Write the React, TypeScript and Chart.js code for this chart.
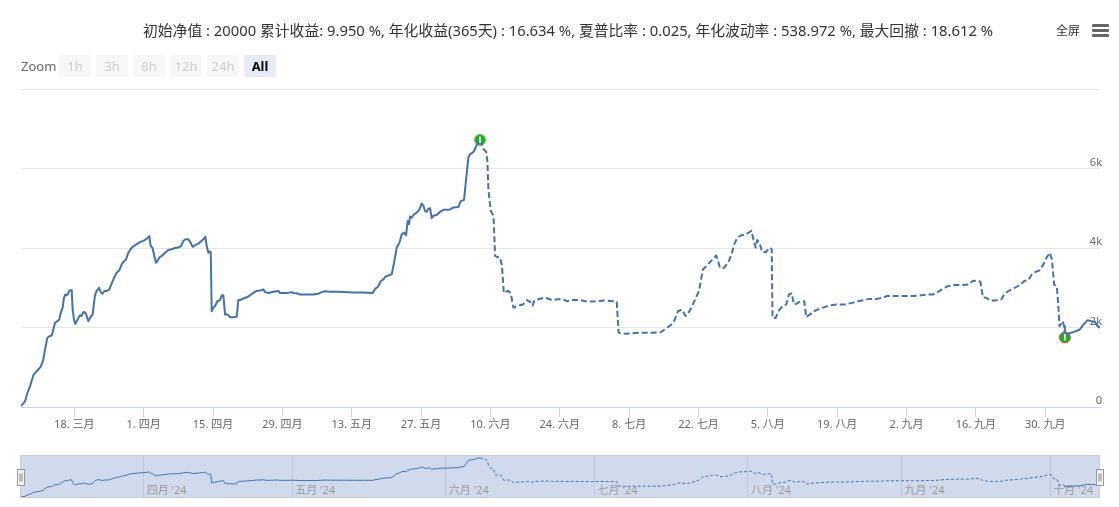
import React, { useEffect, useRef } from 'react';
import { Chart, registerables } from 'chart.js';

Chart.register(...registerables);

const FONT = '"Noto Sans", "Noto Sans CJK SC", sans-serif';
const LINE_COLOR = '#4572A7';

const titleText =
  '初始净值 : 20000 累计收益: 9.950 %, 年化收益(365天) : 16.634 %, 夏普比率 : 0.025, 年化波动率 : 538.972 %, 最大回撤 : 18.612 %';
const zoomButtons = ['1h', '3h', '8h', '12h', '24h', 'All'];
const selectedButton = 'All';

// day index = days since 1 Mar 2024
const dayIndex = [
  6.24, 6.5, 7.05, 7.52, 8.06, 8.73, 9.41, 10.21, 10.75, 11.09, 11.56, 11.96, 12.43, 12.77, 13.11, 13.58,
  13.98, 14.25, 14.65, 14.92, 15.19, 15.46, 15.8, 16.0, 16.47, 16.67, 16.94, 17.21, 17.48, 17.82, 18.15,
  18.49, 18.83, 19.23, 19.5, 19.84, 20.17, 20.71, 20.98, 21.18, 21.52, 21.99, 22.33, 22.73, 23.07, 23.54,
  24.08, 24.55, 25.02, 25.56, 26.1, 26.57, 26.9, 27.44, 27.91, 28.59, 29.26, 29.93, 30.27, 30.94, 31.61,
  32.15, 32.42, 32.76, 33.16, 33.5, 33.77, 34.17, 34.64, 35.32, 35.99, 36.66, 37.33, 38.01, 38.55, 39.02,
  39.49, 40.03, 40.5, 40.9, 41.37, 42.05, 42.72, 43.06, 43.46, 43.73, 44.06, 44.27, 44.54, 44.74, 45.07,
  45.41, 45.88, 46.42, 46.76, 47.09, 47.43, 47.77, 48.1, 48.44, 49.11, 49.78, 50.12, 50.46, 51.13, 51.8,
  52.48, 53.15, 53.82, 54.5, 55.17, 55.51, 56.18, 57.19, 58.2, 58.53, 59.21, 59.88, 60.89, 61.23, 61.9,
  62.57, 63.92, 65.26, 66.27, 66.95, 67.62, 68.63, 69.98, 71.32, 73.34, 75.36, 77.24, 77.71, 78.39, 78.86,
  79.4, 79.73, 80.41, 81.08, 81.55, 82.09, 82.63, 83.1, 83.57, 83.97, 84.31, 84.58, 84.78, 85.12, 85.45,
  86.13, 86.67, 87.14, 87.47, 87.81, 88.15, 88.48, 88.82, 89.16, 89.49, 90.17, 90.84, 91.51, 92.18, 92.86,
  93.53, 94.54, 95.01, 95.68, 96.09, 96.56, 96.9, 97.43, 97.7, 98.24, 98.91, 99.59, 100.13, 100.39, 100.6,
  100.8, 101.07, 101.61, 101.74, 101.94, 102.41, 102.95, 103.33, 103.71, 104.49, 105.1, 105.64, 106.42,
  107.58, 108.35, 109.12, 109.51, 109.89, 110.67, 111.82, 112.6, 113.37, 114.53, 115.69, 116.46, 117.62,
  119.16, 120.71, 122.26, 124.19, 125.73, 126.5, 126.89, 127.66, 129.21, 130.75, 132.3, 133.84, 135.39,
  136.16, 137.32, 138.09, 138.87, 139.64, 140.41, 140.8, 141.57, 142.34, 143.12, 143.89, 144.66, 145.05,
  145.82, 146.59, 147.36, 148.14, 148.68, 149.14, 149.68, 150.22, 150.84, 151.61, 152.39, 153.16, 153.7,
  154.09, 154.55, 154.86, 155.32, 155.86, 156.64, 157.41, 157.79, 157.95, 158.57, 159.34, 160.11, 160.73,
  161.27, 161.81, 162.28, 162.82, 163.59, 164.36, 164.75, 165.52, 166.29, 167.45, 168.61, 169.77, 170.93,
  172.47, 174.02, 175.18, 176.34, 177.5, 179.04, 180.2, 180.97, 182.52, 184.06, 186.38, 187.93, 189.08,
  190.24, 191.02, 192.18, 193.33, 194.88, 196.42, 197.58, 198.35, 199.13, 199.9, 200.44, 201.06, 201.83,
  202.99, 204.15, 204.92, 205.7, 206.85, 208.01, 208.78, 209.56, 210.33, 211.1, 211.87, 212.65, 213.27,
  213.96, 214.35, 214.81, 215.35, 215.74, 215.89, 216.51, 216.82, 216.97, 217.67, 218.83, 219.99, 220.76,
  221.53, 222.31, 223.08, 223.46, 224.06,
];

const netProfit = [
  30, 60, 140, 350, 520, 800, 900, 1010, 1190, 1450, 1740, 1780, 1800, 1950, 2120, 2160,
  2200, 2370, 2500, 2750, 2830, 2810, 2870, 2930, 2940, 2450, 2200, 2090, 2160, 2240, 2310,
  2290, 2390, 2370, 2290, 2160, 2240, 2330, 2620, 2810, 2920, 3000, 2890, 2850, 2920, 2920,
  2960, 3110, 3250, 3380, 3440, 3590, 3650, 3710, 3880, 4010, 4070, 4120, 4150, 4180, 4230,
  4300, 4050, 4010, 3800, 3630, 3670, 3760, 3800, 3880, 3950, 3970, 4000, 4010, 4050, 4180,
  4220, 4220, 4130, 4030, 4070, 4110, 4180, 4220, 4280, 4050, 3880, 3910, 3900, 2410, 2500,
  2540, 2660, 2690, 2810, 2810, 2330, 2330, 2310, 2260, 2260, 2270, 2690, 2690, 2730, 2760,
  2810, 2870, 2920, 2930, 2960, 2890, 2870, 2900, 2920, 2870, 2870, 2870, 2890, 2870, 2860,
  2830, 2830, 2830, 2850, 2890, 2910, 2900, 2900, 2890, 2880, 2880, 2870, 2970, 3040, 3170,
  3210, 3270, 3310, 3340, 3630, 4010, 4130, 4340, 4390, 4320, 4680, 4600, 4790, 4760, 4830,
  4890, 4970, 5120, 5060, 4930, 4910, 4990, 5000, 4750, 4810, 4830, 4910, 4960, 4960, 4970,
  5020, 5030, 5180, 5210, 5730, 6280, 6360, 6400, 6440, 6590, 6720, 6490, 6420, 6190, 5480,
  5230, 4930, 4810, 4470, 3800, 3770, 3770, 3550, 2870, 2920, 2870, 2500, 2540,
  2580, 2690, 2640, 2550, 2690, 2710, 2750, 2730, 2690, 2710, 2710, 2660, 2690,
  2690, 2650, 2660, 2680, 2660, 2640, 1870, 1840, 1850, 1870, 1870, 1870, 1880,
  1950, 2050, 2160, 2410, 2450, 2290, 2330, 2500, 2710, 2920, 3460, 3550, 3610,
  3710, 3810, 3500, 3500, 3590, 3670, 3840, 4090, 4260, 4320, 4330, 4390, 4430,
  4220, 4010, 4200, 4130, 3900, 3900, 4010, 3970, 2240, 2240, 2450, 2540, 2580,
  2830, 2860, 2580, 2600, 2660, 2660, 2260, 2330, 2410, 2470, 2520, 2560, 2580,
  2580, 2620, 2660, 2690, 2720, 2720, 2750, 2790, 2790, 2790, 2790, 2810, 2830,
  2830, 2870, 2960, 3040, 3070, 3070, 3080, 3170, 3180, 3150, 2760, 2750, 2680,
  2680, 2710, 2870, 2920, 3000, 3080, 3170, 3190, 3340, 3400, 3440, 3590, 3760,
  3880, 3710, 3080, 3040, 2370, 2030, 2160, 2030, 1750, 1850, 1890, 1950, 2080,
  2180, 2160, 2140, 2050, 1990,
];

// max drawdown: peak and trough
const markerDays = [98.91, 216.97];
const markerValues = [6720, 1750];
const markerBorders = ['#66c266', '#e8463a'];

const xTickDays = [17, 31, 45, 59, 73, 87, 101, 115, 129, 143, 157, 171, 185, 199, 213];
const xTickLabels = [
  '18. 三月', '1. 四月', '15. 四月', '29. 四月', '13. 五月', '27. 五月', '10. 六月', '24. 六月',
  '8. 七月', '22. 七月', '5. 八月', '19. 八月', '2. 九月', '16. 九月', '30. 九月',
];
const yTickValues = [0, 2000, 4000, 6000, 8000];
const yTickLabels = ['0', '2k', '4k', '6k', ''];
const navTickDays = [31, 61, 92, 122, 153, 184, 214];
const navTickLabels = ["四月 '24", "五月 '24", "六月 '24", "七月 '24", "八月 '24", "九月 '24", "十月 '24"];

const peakIdx = dayIndex.indexOf(markerDays[0]);
const troughIdx = dayIndex.indexOf(markerDays[1]);

const seriesPoints = () => dayIndex.map((d, i) => ({ x: d, y: netProfit[i] }));

const markerPin = {
  id: 'markerPin',
  afterDatasetsDraw(chart: any) {
    const meta = chart.getDatasetMeta(1);
    if (!meta) return;
    const ctx = chart.ctx;
    ctx.save();
    ctx.strokeStyle = '#ffffff';
    ctx.lineWidth = 1.5;
    meta.data.forEach((pt: any) => {
      ctx.beginPath();
      ctx.moveTo(pt.x, pt.y - 3.5);
      ctx.lineTo(pt.x, pt.y + 3);
      ctx.stroke();
    });
    ctx.restore();
  },
};

const navDecor = {
  id: 'navDecor',
  beforeDatasetsDraw(chart: any) {
    const { ctx, chartArea: a } = chart;
    ctx.save();
    ctx.fillStyle = 'rgba(102,133,194,0.3)';
    ctx.fillRect(a.left, a.top, a.right - a.left, a.bottom - a.top);
    ctx.restore();
  },
  afterDraw(chart: any) {
    const { ctx, chartArea: a } = chart;
    ctx.save();
    ctx.strokeStyle = '#cccccc';
    ctx.lineWidth = 1;
    ctx.strokeRect(Math.round(a.left) - 0.5, Math.round(a.top) + 0.5, a.right - a.left, a.bottom - a.top - 1);
    const midY = (a.top + a.bottom) / 2;
    [a.left, a.right].forEach((hx: number) => {
      const x0 = Math.round(hx) - 3.5;
      const y0 = Math.round(midY - 8) + 0.5;
      ctx.fillStyle = '#f2f2f2';
      ctx.fillRect(x0, y0, 7, 16);
      ctx.strokeStyle = '#999999';
      ctx.strokeRect(x0, y0, 7, 16);
      ctx.strokeStyle = '#888888';
      ctx.beginPath();
      ctx.moveTo(x0 + 2.5, y0 + 4);
      ctx.lineTo(x0 + 2.5, y0 + 12);
      ctx.moveTo(x0 + 4.5, y0 + 4);
      ctx.lineTo(x0 + 4.5, y0 + 12);
      ctx.stroke();
    });
    ctx.restore();
  },
};

export default function App() {
  const mainRef = useRef<HTMLCanvasElement>(null);
  const navRef = useRef<HTMLCanvasElement>(null);

  useEffect(() => {
    Chart.defaults.font.family = FONT;
    const xMin = dayIndex[0];
    const xMax = dayIndex[dayIndex.length - 1];
    const dashSeg = (dash: number[]) => (ctx: any) =>
      ctx.p0DataIndex >= peakIdx && ctx.p1DataIndex <= troughIdx ? dash : undefined;

    const main = new Chart(mainRef.current as HTMLCanvasElement, {
      type: 'line',
      data: {
        datasets: [
          {
            data: seriesPoints(),
            borderColor: LINE_COLOR,
            borderWidth: 2,
            pointRadius: 0,
            tension: 0,
            fill: false,
            borderJoinStyle: 'round',
            segment: { borderDash: dashSeg([6, 3]) },
          } as any,
          {
            type: 'scatter',
            data: markerDays.map((d, i) => ({ x: d, y: markerValues[i] })),
            pointRadius: 5.5,
            pointBackgroundColor: '#1fb01f',
            pointBorderColor: markerBorders,
            pointBorderWidth: 1,
            clip: false,
          } as any,
        ],
      },
      options: {
        animation: false,
        responsive: false,
        maintainAspectRatio: false,
        events: [],
        layout: { padding: { left: 21, right: 19, top: 89, bottom: 0 } },
        plugins: { legend: { display: false }, tooltip: { enabled: false } },
        scales: {
          x: {
            type: 'linear',
            min: xMin,
            max: xMax,
            position: 'bottom',
            afterBuildTicks: (s: any) => {
              s.ticks = xTickDays.map((v) => ({ value: v }));
            },
            afterFit: (s: any) => {
              s.height = 33;
            },
            ticks: {
              callback: (v: any) => xTickLabels[xTickDays.indexOf(Number(v))] ?? '',
              color: '#666666',
              font: { size: 11, family: FONT },
              padding: 1,
              maxRotation: 0,
              autoSkip: false,
            },
            grid: { drawOnChartArea: false, drawTicks: true, tickLength: 10, color: '#ccd6eb' },
            border: { color: '#ccd6eb', width: 1 },
          } as any,
          y: {
            type: 'linear',
            position: 'right',
            min: 0,
            max: 8000,
            afterBuildTicks: (s: any) => {
              s.ticks = yTickValues.map((v) => ({ value: v }));
            },
            afterFit: (s: any) => {
              s.width = 0;
            },
            ticks: {
              callback: (v: any) => yTickLabels[yTickValues.indexOf(Number(v))] ?? '',
              mirror: true,
              padding: 2,
              labelOffset: -6,
              color: '#666666',
              font: { size: 11, family: FONT },
            },
            grid: {
              drawTicks: false,
              color: (c: any) => (c.tick && c.tick.value === 0 ? 'rgba(0,0,0,0)' : '#e6e6e6'),
            },
            border: { display: false },
          } as any,
        },
      },
      plugins: [markerPin],
    });

    const nav = new Chart(navRef.current as HTMLCanvasElement, {
      type: 'line',
      data: {
        datasets: [
          {
            data: seriesPoints(),
            borderColor: LINE_COLOR,
            borderWidth: 1,
            pointRadius: 0,
            tension: 0,
            fill: false,
            segment: { borderDash: dashSeg([3, 2]) },
          } as any,
        ],
      },
      options: {
        animation: false,
        responsive: false,
        maintainAspectRatio: false,
        events: [],
        layout: { padding: { left: 21, right: 19, top: 10, bottom: 0 } },
        plugins: { legend: { display: false }, tooltip: { enabled: false } },
        scales: {
          x: {
            type: 'linear',
            min: xMin,
            max: xMax,
            position: 'bottom',
            afterBuildTicks: (s: any) => {
              s.ticks = navTickDays.map((v) => ({ value: v }));
            },
            afterFit: (s: any) => {
              s.height = 9;
            },
            ticks: {
              callback: (v: any) => navTickLabels[navTickDays.indexOf(Number(v))] ?? '',
              color: '#999999',
              font: { size: 11, family: FONT },
              mirror: true,
              padding: 1,
              align: 'start',
              labelOffset: 3,
              maxRotation: 0,
              autoSkip: false,
              z: 1,
            },
            grid: { drawOnChartArea: true, drawTicks: false, color: '#e6e6e6' },
            border: { display: false },
          } as any,
          y: { display: false, min: -150, max: 7200 },
        },
      },
      plugins: [navDecor],
    });

    return () => {
      main.destroy();
      nav.destroy();
    };
  }, []);

  return (
    <div
      style={{
        position: 'fixed',
        left: 0,
        top: 0,
        width: 1119,
        height: 507,
        background: '#ffffff',
        fontFamily: FONT,
        overflow: 'hidden',
      }}
    >
      <canvas ref={mainRef} width={1119} height={440} style={{ position: 'absolute', left: 0, top: 0 }} />
      <canvas ref={navRef} width={1119} height={62} style={{ position: 'absolute', left: 0, top: 445 }} />
      <div
        style={{
          position: 'absolute',
          left: 143,
          top: 20,
          height: 20,
          lineHeight: '20px',
          fontSize: 14.8,
          color: '#333333',
          whiteSpace: 'nowrap',
        }}
      >
        {titleText}
      </div>
      <div
        style={{
          position: 'absolute',
          left: 21,
          top: 55,
          height: 22,
          lineHeight: '22px',
          fontSize: 13,
          color: '#666666',
        }}
      >
        Zoom
      </div>
      {zoomButtons.map((b, i) => {
        const sel = b === selectedButton;
        return (
          <div
            key={b}
            style={{
              position: 'absolute',
              left: 59 + i * 37,
              top: 55,
              width: 32,
              height: 22,
              lineHeight: '22px',
              textAlign: 'center',
              fontSize: 13,
              borderRadius: 2,
              background: sel ? '#e6ebf5' : '#f7f7f7',
              color: sel ? '#000000' : '#cccccc',
              fontWeight: sel ? 700 : 400,
            }}
          >
            {b}
          </div>
        );
      })}
      <div
        style={{
          position: 'absolute',
          left: 1056,
          top: 21,
          height: 20,
          lineHeight: '20px',
          fontSize: 12,
          color: '#333333',
        }}
      >
        全屏
      </div>
      {[0, 1, 2].map((k) => (
        <div
          key={k}
          style={{
            position: 'absolute',
            left: 1092,
            top: 24 + k * 5,
            width: 17,
            height: 3,
            borderRadius: 1,
            background: '#666666',
          }}
        />
      ))}
    </div>
  );
}
